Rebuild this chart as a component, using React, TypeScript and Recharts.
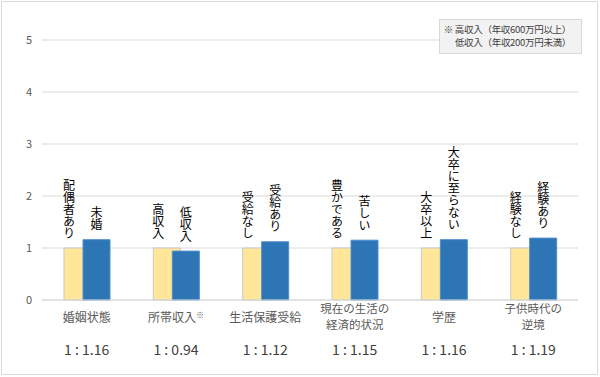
import React from 'react';
import { BarChart, Bar, XAxis, YAxis, CartesianGrid, LabelList } from 'recharts';

const categories = ['婚姻状態', '所帯収入', '生活保護受給', '現在の生活の経済的状況', '学歴', '子供時代の逆境'];
const categoryLines = [['婚姻状態'], ['所帯収入'], ['生活保護受給'], ['現在の生活の', '経済的状況'], ['学歴'], ['子供時代の', '逆境']];
const categoryMarks = ['', '※', '', '', '', ''];
const baseLabels = ['配偶者あり', '高収入', '受給なし', '豊かである', '大卒以上', '経験なし'];
const compLabels = ['未婚', '低収入', '受給あり', '苦しい', '大卒に至らない', '経験あり'];
const baseValues = [1, 1, 1, 1, 1, 1];
const compValues = [1.16, 0.94, 1.12, 1.15, 1.16, 1.19];
const ratioLabels = ['1 : 1.16', '1 : 0.94', '1 : 1.12', '1 : 1.15', '1 : 1.16', '1 : 1.19'];
const yTicks = [0, 1, 2, 3, 4, 5];
const noteLines = ['※ 高収入（年収600万円以上）', '低収入（年収200万円未満）'];

const data = categories.map((c, i) => ({
  name: c,
  base: baseValues[i],
  comp: compValues[i],
  baseLabel: baseLabels[i],
  compLabel: compLabels[i],
}));

const FONT = '"Noto Sans CJK JP", "Noto Sans", sans-serif';

// vertical (tategaki) label, its end sits a bit above the bar top
const verticalLabel = (shift: number | null) => (props: any) => {
  const { x, y, width, value } = props;
  const cx = shift === null ? x + width / 2 : x + shift;
  return (
    <text
      x={cx}
      y={y - 9}
      textAnchor="end"
      fontSize={12}
      fontFamily={FONT}
      fill="#000"
      style={{ writingMode: 'vertical-rl' }}
    >
      {value}
    </text>
  );
};

const CategoryTick = (props: any) => {
  const { x, payload } = props;
  const i = payload.index;
  const lines = categoryLines[i];
  const top = lines.length === 1 ? 322 : 313;
  return (
    <g>
      {lines.map((ln, k) => (
        <text
          key={k}
          x={x}
          y={top + k * 16}
          textAnchor="middle"
          fontSize={lines.length === 1 ? 12 : 11.5}
          fontFamily={FONT}
          fill="#595959"
        >
          {ln}
          {k === lines.length - 1 && categoryMarks[i] ? (
            <tspan fontSize={8} dy={-4}>
              {categoryMarks[i]}
            </tspan>
          ) : null}
        </text>
      ))}
      <text x={x} y={355} textAnchor="middle" fontSize={14} fontFamily={FONT} fill="#404040">
        {ratioLabels[i]}
      </text>
    </g>
  );
};

export default function App() {
  return (
    <div style={{ position: 'absolute', left: 0, top: 0, width: 600, height: 377, background: '#fff' }}>
      <div
        style={{
          position: 'absolute',
          left: 1,
          top: 1,
          width: 597,
          height: 374,
          border: '1px solid #d9d9d9',
          boxSizing: 'border-box',
        }}
      />
      <div style={{ position: 'absolute', left: 0, top: 0 }}>
        <BarChart
          width={600}
          height={377}
          data={data}
          margin={{ top: 40, right: 22, bottom: 17, left: 0 }}
          barSize={27}
          barGap={-8}
        >
          <CartesianGrid vertical={false} stroke="#d9d9d9" />
          <XAxis
            dataKey="name"
            height={60}
            interval={0}
            axisLine={{ stroke: '#d9d9d9' }}
            tickLine={false}
            tick={<CategoryTick />}
          />
          <YAxis
            width={42}
            domain={[0, 5]}
            ticks={yTicks}
            axisLine={false}
            tickLine={false}
            tickMargin={4}
            tick={{ fontSize: 11, fill: '#595959', fontFamily: FONT }}
          />
          <Bar dataKey="base" fill="#FFE699" stroke="#c9c9c9" strokeWidth={1} isAnimationActive={false}>
            <LabelList dataKey="baseLabel" content={verticalLabel(5)} />
          </Bar>
          <Bar dataKey="comp" fill="#2E75B6" stroke="#4f8fcb" strokeWidth={1} isAnimationActive={false}>
            <LabelList dataKey="compLabel" content={verticalLabel(null)} />
          </Bar>
        </BarChart>
      </div>
      <div
        style={{
          position: 'absolute',
          left: 439,
          top: 19,
          width: 143,
          height: 35,
          boxSizing: 'border-box',
          background: '#f2f2f2',
          border: '1px solid #d9d9d9',
          paddingRight: 10,
          paddingTop: 3,
          textAlign: 'right',
          fontFamily: FONT,
          fontSize: 9.5,
          lineHeight: '13px',
          color: '#404040',
          whiteSpace: 'nowrap',
          letterSpacing: -0.3,
        }}
      >
        {noteLines.map((l, i) => (
          <div key={i}>{l}</div>
        ))}
      </div>
    </div>
  );
}
